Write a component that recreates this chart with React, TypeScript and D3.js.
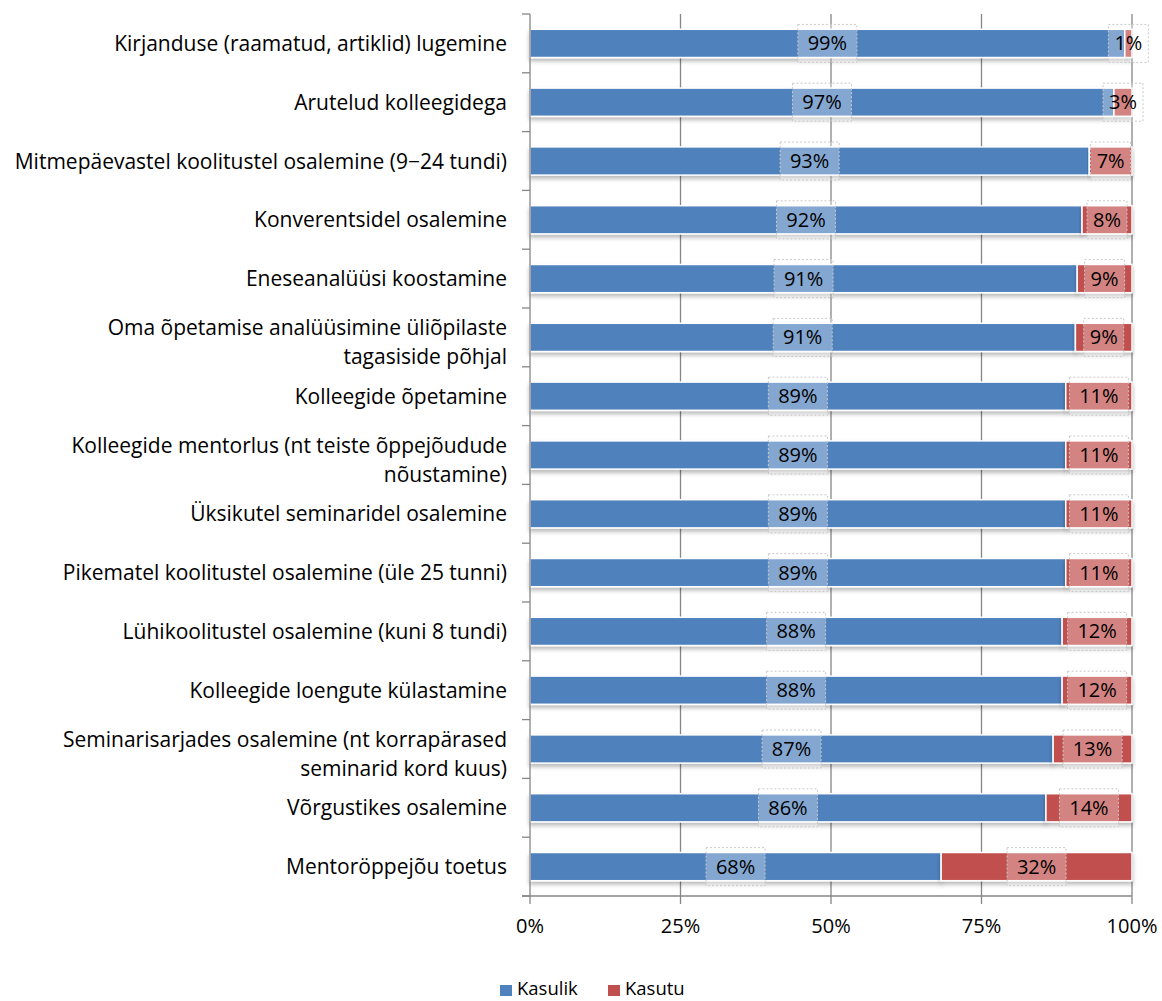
import * as React from "react";
import * as d3 from "d3";

const categories = [
    "Kirjanduse (raamatud, artiklid) lugemine",
    "Arutelud kolleegidega",
    "Mitmepäevastel koolitustel osalemine (9−24 tundi)",
    "Konverentsidel osalemine",
    "Eneseanalüüsi koostamine",
    "Oma õpetamise analüüsimine üliõpilaste|tagasiside põhjal",
    "Kolleegide õpetamine",
    "Kolleegide mentorlus (nt teiste õppejõudude|nõustamine)",
    "Üksikutel seminaridel osalemine",
    "Pikematel koolitustel osalemine (üle 25 tunni)",
    "Lühikoolitustel osalemine (kuni 8 tundi)",
    "Kolleegide loengute külastamine",
    "Seminarisarjades osalemine (nt korrapärased|seminarid kord kuus)",
    "Võrgustikes osalemine",
    "Mentoröppejõu toetus",
];
const kasulik = [98.8, 97.0, 92.9, 91.7, 90.9, 90.6, 89.0, 89.0, 89.0, 89.0, 88.4, 88.4, 86.9, 85.7, 68.3];
const kasutu = kasulik.map(v => 100 - v);
const seriesNames = ["Kasulik", "Kasutu"];
const colors = ["#4F81BD", "#C0504D"];
const xTicks = [0, 25, 50, 75, 100];

const W = 1162, H = 1001;
const left = 530, right = 1132, top = 14, bottom = 896;
const font = "'Open Sans', 'Noto Sans', sans-serif";

export default function App() {
    const x = d3.scaleLinear().domain([0, 100]).range([left, right]);
    const y = d3.scaleBand().domain(categories).range([top, bottom]).paddingInner(0.52).paddingOuter(0.26);
    const bw = y.bandwidth();
    const step = y.step();
    const segs = categories.map((c, i) => {
        const a = kasulik[i], b = kasutu[i];
        return [
            { c, s: 0, x0: 0, x1: a, v: a },
            { c, s: 1, x0: a, x1: 100, v: b },
        ];
    }).flat();

    return <svg width={W} height={H} style={{ position: "absolute", left: 0, top: 0, background: "#fff" }} fontFamily={font}>
        <defs>
            <filter id="sh" x="-5%" y="-30%" width="110%" height="180%">
                <feDropShadow dx="0" dy="3" stdDeviation="2" floodColor="#000" floodOpacity="0.28" />
            </filter>
        </defs>
        {xTicks.slice(1).map(t => <line key={t} x1={x(t)} x2={x(t)} y1={top} y2={bottom} stroke="#868686" strokeWidth={1.3} />)}
        {segs.map((d, i) => <rect key={i} x={x(d.x0)} y={y(d.c)!} width={x(d.x1) - x(d.x0)} height={bw}
            fill={colors[d.s]} stroke="#fff" strokeWidth={1.5} filter="url(#sh)" />)}
        {/* axes */}
        <line x1={left} x2={left} y1={top} y2={bottom} stroke="#868686" strokeWidth={1.3} />
        {d3.range(categories.length + 1).map(i => <line key={i} x1={left - 8} x2={left} y1={top + i * step} y2={top + i * step} stroke="#868686" strokeWidth={1.3} />)}
        <line x1={left - 8} x2={right} y1={bottom} y2={bottom} stroke="#868686" strokeWidth={1.3} />
        {xTicks.map(t => <g key={t}>
            <line x1={x(t)} x2={x(t)} y1={bottom} y2={bottom + 8} stroke="#868686" strokeWidth={1.3} />
            <text x={x(t)} y={bottom + 37} textAnchor="middle" fontSize={20} fill="#000">{t}%</text>
        </g>)}
        {categories.map(c => {
            const lines = c.split("|");
            const cy = y(c)! + bw / 2;
            return <text key={c} textAnchor="end" fontSize={21} fill="#000">
                {lines.map((l, j) => <tspan key={j} x={left - 23}
                    y={cy + 7.5 + (lines.length > 1 ? (j - 0.5) * 29 + 4.5 : 0)}>{l}</tspan>)}
            </text>;
        })}
        {/* data labels */}
        {segs.map((d, i) => {
            const cx = (x(d.x0) + x(d.x1)) / 2;
            const cy = y(d.c)! + bw / 2;
            const label = `${Math.round(d.v)}%`;
            const w = label.length * 19 + 2;
            return <g key={i}>
                <rect x={cx - w / 2} y={cy - 19} width={w} height={38} fill="#fff" fillOpacity={0.3}
                    stroke="#c8c8c8" strokeDasharray="2,2" strokeWidth={1} />
                <text x={cx} y={cy + 7} textAnchor="middle" fontSize={20} fill="#000">{label}</text>
            </g>;
        })}
        {/* legend */}
        {seriesNames.map((s, i) => {
            const lx = 500 + i * 108;
            return <g key={s}>
                <rect x={lx} y={985} width={12} height={11} fill={colors[i]} />
                <text x={lx + 17} y={995} fontSize={18.5} fill="#000">{s}</text>
            </g>;
        })}
    </svg>;
}
